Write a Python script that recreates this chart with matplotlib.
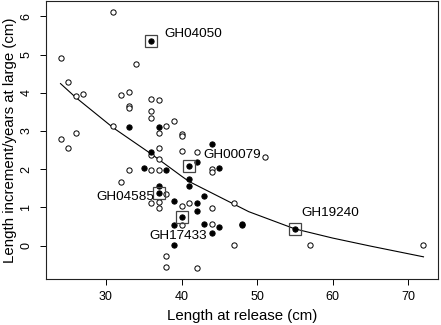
import matplotlib
matplotlib.use("Agg")
import matplotlib.pyplot as plt

plt.rcParams['font.family'] = ['Liberation Sans', 'DejaVu Sans']

# Open circles
open_x = [31, 24, 34, 25, 26, 27, 32, 33, 33, 33, 36, 37, 36, 36, 39, 38, 37, 40, 40, 31,
          24, 26, 25, 37, 36, 37, 40, 42, 44, 44, 33, 36, 37, 32, 38, 36, 37, 37, 40, 41,
          44, 47, 40, 44, 47, 38, 38, 42, 51, 57, 72]
open_y = [6.12, 4.90, 4.75, 4.27, 3.91, 3.96, 3.94, 4.03, 3.66, 3.59, 3.85, 3.81, 3.52, 3.33,
          3.26, 3.13, 2.96, 2.93, 2.86, 3.14, 2.80, 2.95, 2.55, 2.55, 2.36, 2.26, 2.47, 2.46,
          2.00, 1.94, 1.97, 1.99, 1.97, 1.67, 1.36, 1.13, 1.14, 0.99, 1.04, 1.13, 0.98, 1.13,
          0.55, 0.57, 0.02, -0.28, -0.55, -0.59, 2.31, 0.02, 0.02]

# Filled circles
filled_x = [33, 37, 36, 44, 42, 45, 35, 38, 41, 41, 37, 39, 42, 42, 43, 39, 43, 45, 44, 48, 48, 39]
filled_y = [3.10, 3.11, 2.45, 2.67, 2.20, 2.02, 2.03, 1.97, 1.75, 1.55, 1.56, 1.16, 1.13, 0.92,
            1.31, 0.55, 0.56, 0.48, 0.32, 0.58, 0.54, 0.02]

# Highlighted fish (boxed)
tag_names = ["GH04050", "GH00079", "GH04585", "GH17433", "GH19240"]
tag_x = [36, 41, 37, 40, 55]
tag_y = [5.36, 2.09, 1.37, 0.74, 0.44]

# Fitted curve
curve_x = [24, 26, 31, 36, 40, 41, 46.3, 48.9, 55, 60, 65, 72]
curve_y = [4.24, 3.88, 3.08, 2.40, 1.82, 1.68, 1.15, 0.89, 0.44, 0.20, -0.01, -0.29]

xticks = [30, 40, 50, 60, 70]
yticks = [0, 1, 2, 3, 4, 5, 6]

fig = plt.figure(figsize=(4.41, 3.25), dpi=100)
ax = fig.add_axes([46/441, 46/325, (438-46)/441, (324-46)/325])

ax.plot(curve_x, curve_y, color='black', lw=0.8, zorder=2)
ax.plot(open_x, open_y, 'o', ms=3.8, mfc='white', mec='black', mew=0.7, zorder=3)
ax.plot(filled_x, filled_y, 'o', ms=3.8, mfc='black', mec='black', mew=0.7, zorder=3)
ax.plot(tag_x, tag_y, 'o', ms=3.8, mfc='black', mec='black', mew=0.7, zorder=4)
ax.plot(tag_x, tag_y, 's', ms=8.0, mfc='none', mec='#444444', mew=0.9, zorder=4)

# label offsets (points): GH04050, GH00079, GH04585, GH17433, GH19240
offsets = [(9.5, 5.0, 'left'), (10.5, 7.5, 'left'), (-3.5, -2.5, 'right'),
           (-2.5, -13.2, 'center'), (4.6, 11.7, 'left')]
for name, x, y, (dx, dy, ha) in zip(tag_names, tag_x, tag_y, offsets):
    ax.annotate(name, (x, y), xytext=(dx, dy), textcoords='offset points',
                ha=ha, va='center', fontsize=9.7, zorder=5)

ax.set_xlim(22.08, 73.92)
ax.set_ylim(-0.87, 6.40)
ax.set_xticks(xticks)
ax.set_yticks(yticks)
ax.tick_params(direction='out', length=4.3, width=0.7, labelsize=9, pad=4)
ax.tick_params(axis='y', pad=5.5)
for lbl in ax.get_yticklabels():
    lbl.set_rotation(90)
    lbl.set_va('center')
for s in ax.spines.values():
    s.set_linewidth(0.8)
    s.set_color('#222222')

ax.set_xlabel("Length at release (cm)", fontsize=10.8, labelpad=4.5)
ax.set_ylabel("Length increment/years at large (cm)", fontsize=10.8, labelpad=2.5)

fig.savefig("out.png", dpi=100)
